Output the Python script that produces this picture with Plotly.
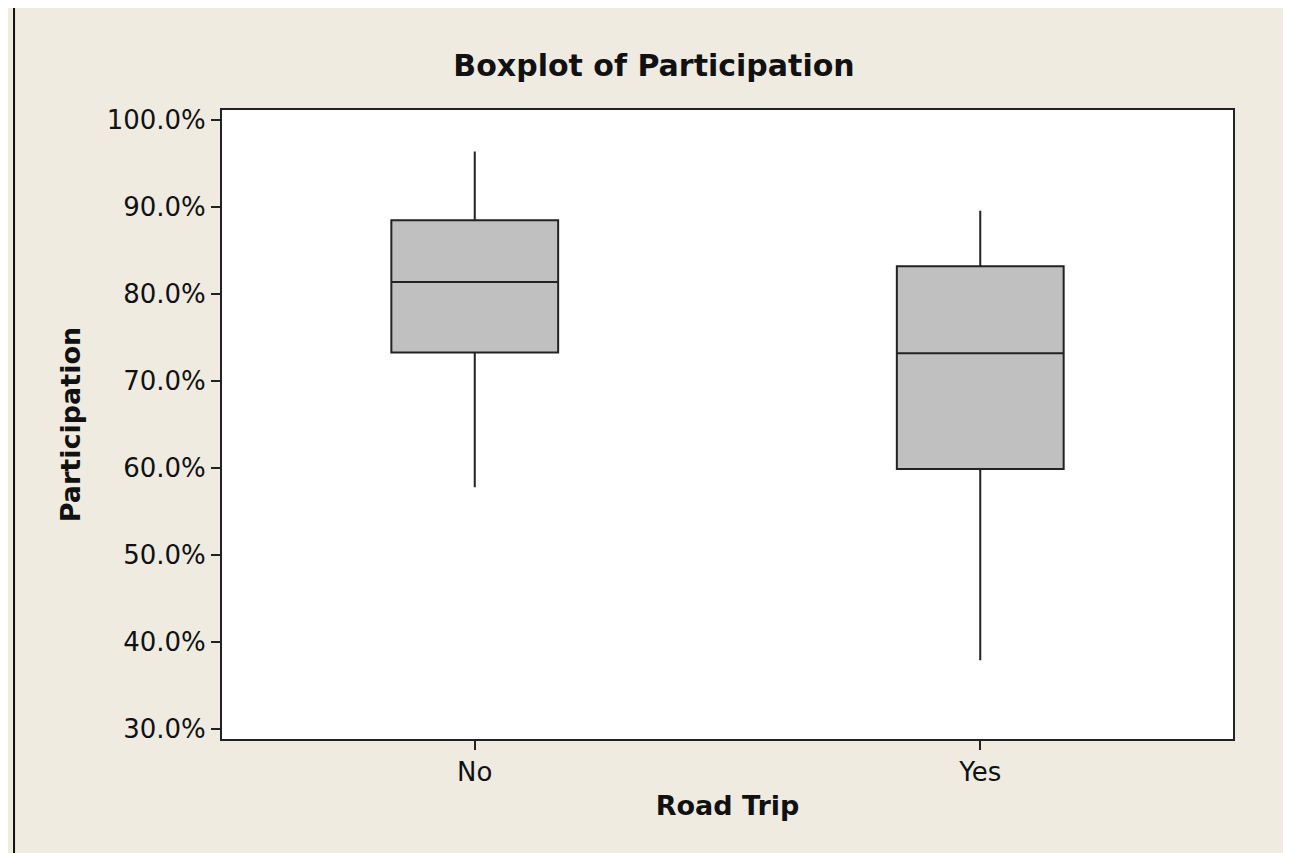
"""Boxplot of participation by road trip (Minitab-style)."""
import plotly.graph_objects as go

# data (fractions)
groups = ["No", "Yes"]
lower_whisker = [0.578, 0.379]
q1 = [0.733, 0.599]
median = [0.814, 0.732]
q3 = [0.885, 0.832]
upper_whisker = [0.964, 0.896]

y_ticks = [0.3, 0.4, 0.5, 0.6, 0.7, 0.8, 0.9, 1.0]
y_tick_labels = ["30.0%", "40.0%", "50.0%", "60.0%", "70.0%", "80.0%", "90.0%", "100.0%"]

BG = "#EFEBE1"
INK = "#111111"
FONT = "DejaVu Sans"

fig = go.Figure()

fig.add_trace(go.Box(
    x=groups,
    q1=q1,
    median=median,
    q3=q3,
    lowerfence=lower_whisker,
    upperfence=upper_whisker,
    boxpoints=False,
    width=0.33,
    whiskerwidth=0,
    fillcolor="#C0C0C0",
    line=dict(color="#222222", width=2),
    hoverinfo="skip",
    showlegend=False,
))

# the page body adds an 8px offset, so the figure is 8px smaller
fig.update_layout(
    width=1283,
    height=845,
    paper_bgcolor=BG,
    plot_bgcolor="white",
    margin=dict(l=214, r=58, t=102, b=114),
    font=dict(family=FONT, color=INK, size=26),
    title=dict(
        text="<b>Boxplot of Participation</b>",
        x=0.5035, xref="container", xanchor="center",
        y=0.9325, yref="container", yanchor="middle",
        font=dict(size=30, color=INK),
    ),
)

fig.update_xaxes(
    range=[-0.5, 1.5],
    showgrid=False,
    zeroline=False,
    showline=True, mirror=True, linecolor="#222222", linewidth=2,
    ticks="outside", ticklen=9, tickwidth=2, tickcolor="#222222",
    tickfont=dict(size=26, color=INK),
    title=dict(text="<b>Road Trip</b>", font=dict(size=27, color=INK), standoff=10),
)

fig.update_yaxes(
    range=[0.2885, 1.0118],
    tickvals=y_ticks,
    ticktext=y_tick_labels,
    showgrid=False,
    zeroline=False,
    showline=True, mirror=True, linecolor="#222222", linewidth=2,
    ticks="outside", ticklen=9, tickwidth=2, tickcolor="#222222",
    tickfont=dict(size=26, color=INK),
    title=dict(text="<b>Participation</b>", font=dict(size=27, color=INK), standoff=18),
)

# outer frame of the graph window (left edge is visible)
frame_x = -0.2057
frame_y = 1.1685
fig.add_shape(type="line", xref="paper", yref="paper",
              x0=frame_x, x1=1.5, y0=frame_y, y1=frame_y,
              line=dict(color=INK, width=2))
fig.add_shape(type="line", xref="paper", yref="paper",
              x0=frame_x, x1=frame_x, y0=-0.5, y1=frame_y,
              line=dict(color=INK, width=2))

fig.write_html("out.html")
